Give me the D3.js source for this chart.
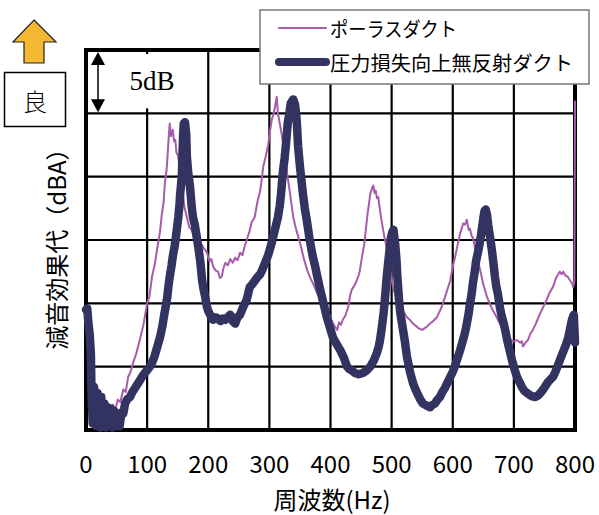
<!DOCTYPE html>
<html>
<head>
<meta charset="utf-8">
<script src="https://cdn.jsdelivr.net/npm/d3@7"></script>
<style>
html,body{margin:0;padding:0;background:#fff;}
svg{display:block;}
</style>
</head>
<body>
<svg id="chart" width="599" height="515"></svg>
<script>
// ---- data ----
const xTicks = [0,100,200,300,400,500,600,700,800];
const yGrid = [0,5,10,15,20,25,30];
const seriesNames = ["ポーラスダクト","圧力損失向上無反射ダクト"];
const xTitle = "周波数(Hz)";
const yTitle = "減音効果代（dBA）";

// porous duct [Hz, dB]
const porous = [
[14,3.6],[18,3.0],[20,3.2],[24,2.0],[27,2.6],[31,1.0],[34,2.2],[36,2.0],[40,1.5],[44,2.0],[48,1.6],[52,2.4],[56,2.2],[61,3.2],[65,3.0],
[69,4.2],[73,4.6],[77,5.3],[82,6.0],[88,7.1],[94,8.3],[100,10.0],[104,10.6],[108,12.1],[113,13.2],[118,14.8],[121,15.6],[124,17.0],
[127,18.0],[129,19.5],[132,20.6],[134,22.1],[136,23.6],[137,24.2],[139,23.2],[142,23.7],[144,22.8],[146,22.9],[148,21.9],[151,21.6],
[154,20.2],[157,19.3],[161,17.6],[165,16.8],[169,16.0],[173,15.8],[177,15.1],[182,15.4],[187,14.8],[192,14.4],[198,14.0],[202,13.3],
[205,13.5],[208,12.9],[212,12.6],[216,12.5],[219,12.0],[222,12.1],[225,12.8],[228,13.2],[232,13.0],[236,13.5],[240,13.2],[244,13.6],
[248,13.4],[252,14.0],[256,13.8],[260,14.6],[263,15.0],[267,15.6],[271,16.4],[276,16.8],[280,17.9],[285,18.9],[288,20.0],[290,20.8],
[294,21.6],[298,22.5],[301,23.6],[304,24.5],[308,25.2],[312,26.3],[314,25.0],[317,24.2],[320,23.4],[324,22.1],[327,21.0],[329,20.3],
[334,18.6],[339,16.8],[344,15.8],[350,14.8],[356,13.6],[362,12.6],[367,12.0],[373,11.4],[378,10.8],[383,10.5],[388,10.0],[394,9.5],
[399,9.0],[404,8.4],[408,8.1],[411,7.9],[414,8.5],[417,8.3],[420,8.7],[424,9.0],[429,9.7],[432,10.6],[435,11.1],[439,11.4],[443,11.8],
[446,12.2],[448,12.6],[452,13.8],[455,14.6],[458,15.9],[460,16.8],[463,17.9],[465,18.6],[468,19.1],[470,19.3],[472,18.7],[474,18.9],
[476,18.3],[478,18.4],[482,17.0],[486,15.8],[490,14.8],[494,14.0],[498,12.6],[502,11.3],[508,10.4],[514,9.7],[520,9.3],[525,8.9],
[530,8.7],[535,8.4],[540,8.2],[545,8.0],[550,7.9],[556,8.1],[563,8.4],[568,8.6],[574,8.9],[579,9.4],[584,10.0],[590,10.9],[596,11.8],
[600,12.9],[604,13.7],[607,14.4],[612,15.5],[617,16.3],[620,16.2],[623,16.6],[626,15.8],[628,15.9],[631,15.3],[633,15.2],[639,13.8],
[645,12.6],[650,11.5],[656,10.5],[664,9.6],[672,8.9],[677,8.4],[682,7.9],[688,7.4],[694,7.1],[700,7.0],[705,7.1],[710,6.9],[713,7.0],
[715,6.6],[719,6.9],[723,7.1],[727,7.6],[731,7.9],[736,8.4],[742,9.1],[748,9.7],[753,10.2],[758,10.8],[764,11.3],[769,12.0],[775,12.5],
[778,12.3],[781,12.5],[784,12.2],[788,12.1],[792,11.8],[795,11.6],[797,11.3],[799,11.8],[800,26.0]
];

// pressure-loss-improved non-reflective duct [Hz, dB]
const improved = [
[0,9.5],[2,9.6],[4,8.4],[6,7.6],[8,6.0],[9,3.0],[11,0.5],[13,3.4],[15,2.4],[17,0.3],[19,2.9],[21,1.4],[23,0.2],[25,2.6],[27,0.5],
[30,2.1],[32,0.2],[35,1.8],[37,0.4],[40,1.7],[43,0.2],[46,1.5],[49,0.3],[52,1.2],[55,0.3],[58,1.4],[61,1.3],[64,2.1],[67,2.4],
[72,2.6],[76,3.0],[80,3.3],[84,3.6],[88,3.9],[93,4.3],[98,4.6],[103,4.9],[108,5.3],[112,5.8],[115,6.3],[118,6.8],[121,7.3],[125,8.2],
[128,9.1],[131,9.9],[133,10.5],[135,11.4],[137,12.1],[140,13.0],[142,13.7],[145,14.5],[147,15.2],[149,16.0],[151,16.8],[153,17.8],
[154,18.6],[156,19.6],[157,20.3],[158,22.0],[159,23.4],[160,24.2],[162,24.3],[164,23.3],[165,21.6],[167,20.4],[170,19.3],[173,17.6],
[175,16.8],[178,16.2],[180,15.6],[182,15.0],[185,14.0],[187,13.3],[190,11.8],[192,11.2],[195,10.5],[198,9.7],[200,9.4],[203,9.1],
[206,8.8],[208,8.7],[212,8.9],[216,8.8],[220,8.6],[224,8.8],[228,8.7],[232,8.9],[236,9.1],[240,8.6],[244,8.4],[248,8.9],[252,9.1],
[257,9.7],[260,10.0],[263,10.3],[268,11.3],[272,11.5],[275,11.7],[281,12.1],[285,12.3],[288,12.6],[293,13.2],[298,13.8],[301,14.3],
[304,14.8],[309,15.8],[314,16.8],[317,17.7],[319,18.6],[322,20.3],[325,21.5],[327,22.5],[330,24.2],[333,25.1],[335,25.8],[339,26.1],
[342,25.7],[344,24.8],[345,24.2],[347,22.4],[350,20.8],[355,18.6],[358,17.5],[362,16.3],[366,15.0],[371,13.7],[375,12.9],[378,12.2],
[383,11.1],[389,9.9],[394,8.9],[399,8.1],[404,7.3],[411,6.7],[416,6.3],[422,5.7],[427,5.0],[431,4.8],[435,4.7],[440,4.5],[446,4.4],
[453,4.5],[459,4.7],[465,5.0],[471,5.5],[476,6.1],[479,6.6],[481,7.1],[484,8.1],[487,9.3],[489,10.3],[492,12.1],[495,13.5],[497,14.4],
[499,15.2],[501,15.6],[503,15.8],[505,15.0],[506,14.6],[508,13.4],[509,12.4],[512,10.3],[514,9.3],[517,8.4],[520,7.5],[522,6.9],
[525,5.8],[528,5.1],[530,4.6],[535,3.7],[539,3.2],[543,2.8],[547,2.4],[551,2.1],[558,1.9],[563,1.8],[567,2.0],[571,2.1],[575,2.4],
[579,2.6],[583,3.0],[587,3.3],[592,3.8],[596,4.2],[600,4.6],[604,5.1],[608,5.7],[612,6.3],[615,6.8],[618,7.3],[621,7.9],[623,8.4],
[626,9.2],[628,9.9],[631,10.8],[633,11.6],[636,12.5],[638,13.3],[642,14.2],[645,15.0],[648,16.0],[650,16.7],[652,17.3],[654,17.4],
[656,17.0],[658,16.2],[661,15.2],[664,14.2],[666,13.4],[669,12.1],[671,11.4],[674,10.7],[677,9.7],[680,9.0],[684,8.3],[687,7.6],
[689,7.1],[693,6.3],[697,5.5],[701,4.8],[705,4.2],[709,3.8],[713,3.4],[717,3.1],[722,2.9],[728,2.7],[735,2.6],[739,2.7],[743,2.9],
[748,3.2],[752,3.5],[756,3.8],[760,4.0],[764,4.2],[768,4.6],[772,5.1],[776,5.6],[780,6.1],[785,6.7],[789,7.3],[792,8.0],[795,8.7],
[798,9.1],[800,6.9]
];

// ---- layout ----
const svg = d3.select("#chart");
const font = "'Noto Sans CJK JP','Noto Sans',sans-serif";
const x = d3.scaleLinear().domain([0,800]).range([86,575]);
const y = d3.scaleLinear().domain([0,30]).range([430,50]);
const colPorous = "#a65bab";
const colImproved = "#323360";

// grid
const g = svg.append("g");
g.selectAll(".vg").data(xTicks).join("line")
  .attr("x1",d=>x(d)).attr("x2",d=>x(d)).attr("y1",y(0)).attr("y2",y(30))
  .attr("stroke","#000").attr("stroke-width",2.2);
g.selectAll(".hg").data(yGrid).join("line")
  .attr("x1",x(0)).attr("x2",x(800)).attr("y1",d=>y(d)).attr("y2",d=>y(d))
  .attr("stroke","#000").attr("stroke-width",2.2);

// 5dB scale box (white box over the top-left cell)
svg.append("rect").attr("x",x(0)+3).attr("y",y(30)+4).attr("width",x(200)-x(0)-5).attr("height",y(25)-y(30)-9)
  .attr("fill","#fff");

// frame
svg.append("rect").attr("x",x(0)).attr("y",y(30)).attr("width",x(800)-x(0)).attr("height",y(0)-y(30))
  .attr("fill","none").attr("stroke","#000").attr("stroke-width",4);

// curves (drawn over the frame, as in the reference)
const line = d3.line().x(d=>x(d[0])).y(d=>y(d[1]));
svg.append("path").datum(porous).attr("d",line)
  .attr("fill","none").attr("stroke",colPorous).attr("stroke-width",2).attr("stroke-linejoin","round");
svg.append("path").datum(improved).attr("d",line)
  .attr("fill","none").attr("stroke",colImproved).attr("stroke-width",8.5).attr("stroke-linejoin","round").attr("stroke-linecap","round");

// 5dB double arrow
const ax = 98, aTop = y(30)+2, aBot = y(25)-1;
svg.append("line").attr("x1",ax).attr("x2",ax).attr("y1",aTop+10).attr("y2",aBot-10).attr("stroke","#000").attr("stroke-width",1.5);
svg.append("path").attr("d",`M${ax},${aTop} L${ax-7},${aTop+13} L${ax+7},${aTop+13} Z`).attr("fill","#000");
svg.append("path").attr("d",`M${ax},${aBot} L${ax-7},${aBot-13} L${ax+7},${aBot-13} Z`).attr("fill","#000");
svg.append("text").attr("x",152).attr("y",90).attr("text-anchor","middle")
  .attr("font-family","'Liberation Serif','DejaVu Serif',serif").attr("font-size",27).text("5dB");

// x tick labels
svg.selectAll(".xt").data(xTicks).join("text")
  .attr("x",d=>x(d)).attr("y",473).attr("text-anchor","middle")
  .attr("font-family",font).attr("font-size",24).attr("fill","#000").text(d=>d);

// axis titles
svg.append("text").attr("x",332).attr("y",509).attr("text-anchor","middle")
  .attr("font-family",font).attr("font-size",24).text(xTitle);
svg.append("text").attr("transform","translate(55,243) rotate(-90)").attr("text-anchor","middle")
  .attr("dominant-baseline","central")
  .attr("font-family",font).attr("font-size",24).text(yTitle);

// "better" arrow and box
svg.append("path").attr("d","M34,20 L56,42 L44,42 L44,63 L24,63 L24,42 L13,42 Z")
  .attr("fill","#f5b833").attr("stroke","#222").attr("stroke-width",1.2);
svg.append("rect").attr("x",4.5).attr("y",72.5).attr("width",61).attr("height",54)
  .attr("fill","#fff").attr("stroke","#000").attr("stroke-width",1.5);
svg.append("text").attr("x",35).attr("y",100).attr("text-anchor","middle").attr("dominant-baseline","central")
  .attr("font-family",font).attr("font-weight",300).attr("font-size",24).text("良");

// legend
const lg = svg.append("g");
lg.append("rect").attr("x",260).attr("y",10).attr("width",329).attr("height",74)
  .attr("fill","#fff").attr("stroke","#777").attr("stroke-width",1.5);
const legendItems = [
  {name:seriesNames[0], color:colPorous, w:2, y:28, len:127},
  {name:seriesNames[1], color:colImproved, w:8, y:62, len:243}
];
legendItems.forEach(it=>{
  lg.append("line").attr("x1",279).attr("x2",326).attr("y1",it.y).attr("y2",it.y)
    .attr("stroke",it.color).attr("stroke-width",it.w).attr("stroke-linecap","round");
  lg.append("text").attr("x",330).attr("y",it.y).attr("dominant-baseline","central")
    .attr("font-family",font).attr("font-size",20)
    .attr("textLength",it.len).attr("lengthAdjust","spacingAndGlyphs").text(it.name);
});
</script>
</body>
</html>
